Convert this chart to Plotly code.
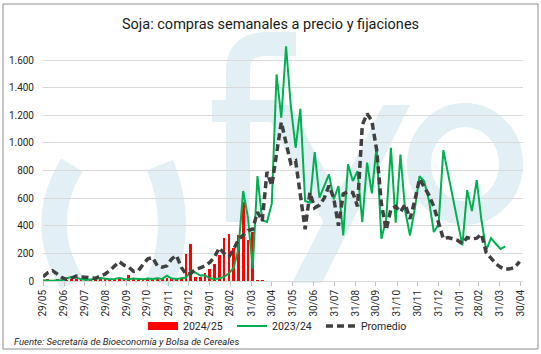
import base64
import pandas as pd
import plotly.graph_objects as go

# ---------------- data ----------------
start_week = "2024-05-29"

serie_2425 = [5, 12, 3, 8, 2, 3, 10, 18, 6, 4, 8, 5, 12, 22, 10, 8, 12, 10, 45, 25,
              15, 8, 12, 10, 8, 12, 22, 10, 8, 12,
              192, 270, 30, 32, 55, 90, 120, 185, 308, 337, 240, 330, 575, 295, 355, 5, 5]

serie_2324 = [5, 3, 2, 5, 8, 20, 28, 25, 12, 8, 10, 15, 22, 18, 12, 15, 22, 15, 12, 18,
              15, 12, 18, 15, 20, 15, 38, 18, 15, 20,
              25, 70, 60, 40, 42, 20, 12, 20, 30, 55, 95, 230,
              652, 460, 90, 760, 440, 427, 560,
              1496, 1182, 1700, 1267, 965, 1247, 579, 567, 934, 603, 688, 772, 591, 688,
              330, 845, 724, 796, 427, 857, 635, 977, 306, 446, 965, 422, 915, 507, 330,
              520, 760, 720, 580, 355, 410, 948, 775, 600, 430, 258, 658, 506, 731, 440,
              224, 310, 270, 232, 250]

promedio = [30, 60, 75, 50, 25, 8, 20, 35, 30, 25, 20, 20, 35, 50, 75,
            110, 140, 115, 100, 70, 75, 120, 160, 170, 110, 100, 110, 160, 185, 100,
            50, 55, 85, 95, 110, 135, 175, 240, 200, 175, 230, 300, 330, 365, 375,
            500, 435, 790, 690, 920, 1150, 1000, 850, 870, 620, 375, 640, 530, 550, 600,
            690, 600, 400, 630, 647, 640, 540, 1130, 1212, 1160, 950, 560, 370, 520, 540,
            500, 555, 450, 580, 740, 680, 620, 540, 420, 305, 315, 308, 295, 270, 315,
            305, 310, 340, 205, 165, 125, 100, 85, 88, 100, 140]

tick_dates = ["2024-05-29", "2024-06-29", "2024-07-29", "2024-08-29", "2024-09-29",
              "2024-10-29", "2024-11-29", "2024-12-29", "2025-01-29", "2025-02-28",
              "2025-03-31", "2025-04-30", "2025-05-31", "2025-06-30", "2025-07-31",
              "2025-08-31", "2025-09-30", "2025-10-31", "2025-11-30", "2025-12-31",
              "2026-01-31", "2026-02-28", "2026-03-31", "2026-04-30"]
tick_labels = ["29/05", "29/06", "29/07", "29/08", "29/09", "29/10", "29/11", "29/12",
               "29/01", "28/02", "31/03", "30/04", "31/05", "30/06", "31/07", "31/08",
               "30/09", "31/10", "30/11", "31/12", "31/01", "28/02", "31/03", "30/04"]
y_ticks = [0, 200, 400, 600, 800, 1000, 1200, 1400, 1600]

weeks = pd.date_range(start_week, periods=len(promedio), freq="7D")

# ---------------- figure ----------------
W, H = 541, 354
L, R, T, B = 43, 18, 38, 73
PW, PH = W - L - R, H - T - B

FONT = "Roboto, Lato, sans-serif"
LOGO = "rgb(226,239,244)"

fig = go.Figure()
fig.add_trace(go.Bar(x=weeks[:len(serie_2425)], y=serie_2425, name="2024/25",
                     marker=dict(color="#ff0000", line=dict(width=0)),
                     width=4 * 86400000, showlegend=False))
fig.add_trace(go.Scatter(x=[None], y=[None], name="2024/25", mode="lines",
                         line=dict(color="#ff0000", width=8), hoverinfo="skip"))
fig.add_trace(go.Scatter(x=weeks[:len(serie_2324)], y=serie_2324, name="2023/24",
                         mode="lines", line=dict(color="#00b050", width=2)))
fig.add_trace(go.Scatter(x=weeks, y=promedio, name="Promedio", mode="lines",
                         line=dict(color="#404040", width=3.5, dash="7px,4px")))

# background watermark (logo) as svg image covering the full figure
svg = f'''<svg xmlns="http://www.w3.org/2000/svg" width="{W}" height="{H}" viewBox="0 0 {W} {H}">
<g fill="none" stroke="{LOGO}">
<path d="M 72 165 Q 36 224 72 283" stroke-width="25"/>
<path d="M 160 165 Q 184 224 160 283" stroke-width="28"/>
<ellipse cx="465" cy="164" rx="46" ry="49" stroke-width="24"/>
<path d="M 238 222 L 238 70 Q 238 44 268 44 L 296 44" stroke-width="24"/>
</g>
<g fill="{LOGO}">
<rect x="212" y="100" width="64" height="22"/>
<polygon points="383,105 410,105 322,283 292,283"/>
<polygon points="262,105 290,105 352,222 338,250"/>
</g>
</svg>'''
src = "data:image/svg+xml;base64," + base64.b64encode(svg.encode()).decode()
fig.add_layout_image(dict(source=src, xref="paper", yref="paper",
                          x=-L / PW, y=1 + T / PH, sizex=W / PW, sizey=H / PH,
                          sizing="stretch", xanchor="left", yanchor="top", layer="below"))

# chart frame
fig.add_shape(type="rect", xref="paper", yref="paper",
              x0=(3 - L) / PW, x1=(538 - L) / PW, y0=-(349 - T - PH) / PH, y1=1 + (T - 4) / PH,
              line=dict(color="#8c8c8c", width=1), fillcolor="rgba(0,0,0,0)", layer="below")

fig.add_annotation(text="<i>Fuente: Secretaría de Bioeconomía y Bolsa de Cereales</i>",
                   xref="paper", yref="paper", x=(12 - L) / PW, y=-(341 - T - PH) / PH,
                   xanchor="left", yanchor="middle", showarrow=False,
                   font=dict(family=FONT, size=9.5, color="#262626"))

fig.update_layout(
    width=W, height=H,
    margin=dict(l=L, r=R, t=T, b=B, autoexpand=False),
    paper_bgcolor="white", plot_bgcolor="rgba(0,0,0,0)",
    separators=",.",
    bargap=0,
    title=dict(text="Soja: compras semanales a precio y fijaciones",
               x=0.5, xref="container", xanchor="center",
               y=1 - 24 / H, yref="container", yanchor="middle",
               font=dict(family=FONT, size=14.5, color="#1a1a1a")),
    legend=dict(orientation="h", xref="paper", yref="paper",
                x=(143 - L) / PW, xanchor="left", y=-(326 - T - PH) / PH, yanchor="middle",
                font=dict(family=FONT, size=10.5, color="#262626"),
                itemwidth=30, entrywidth=44, entrywidthmode="pixels",
                traceorder="normal", bgcolor="rgba(0,0,0,0)"),
    xaxis=dict(type="date", range=["2024-05-29", "2026-05-04"],
               tickvals=tick_dates, ticktext=tick_labels, tickangle=-90,
               tickfont=dict(family=FONT, size=10, color="#262626"),
               showgrid=False, showline=True, linecolor="#d9d9d9", linewidth=1,
               ticks="outside", ticklen=4, tickcolor="#bfbfbf", zeroline=False,
               automargin=False),
    yaxis=dict(range=[0, 1760], tickvals=y_ticks, tickformat=",d",
               tickfont=dict(family=FONT, size=10, color="#262626"),
               showgrid=True, gridcolor="#d9d9d9", gridwidth=1,
               showline=False, zeroline=False, ticks="", ticklabelstandoff=8,
               automargin=False),
)

fig.write_html("out.html")
